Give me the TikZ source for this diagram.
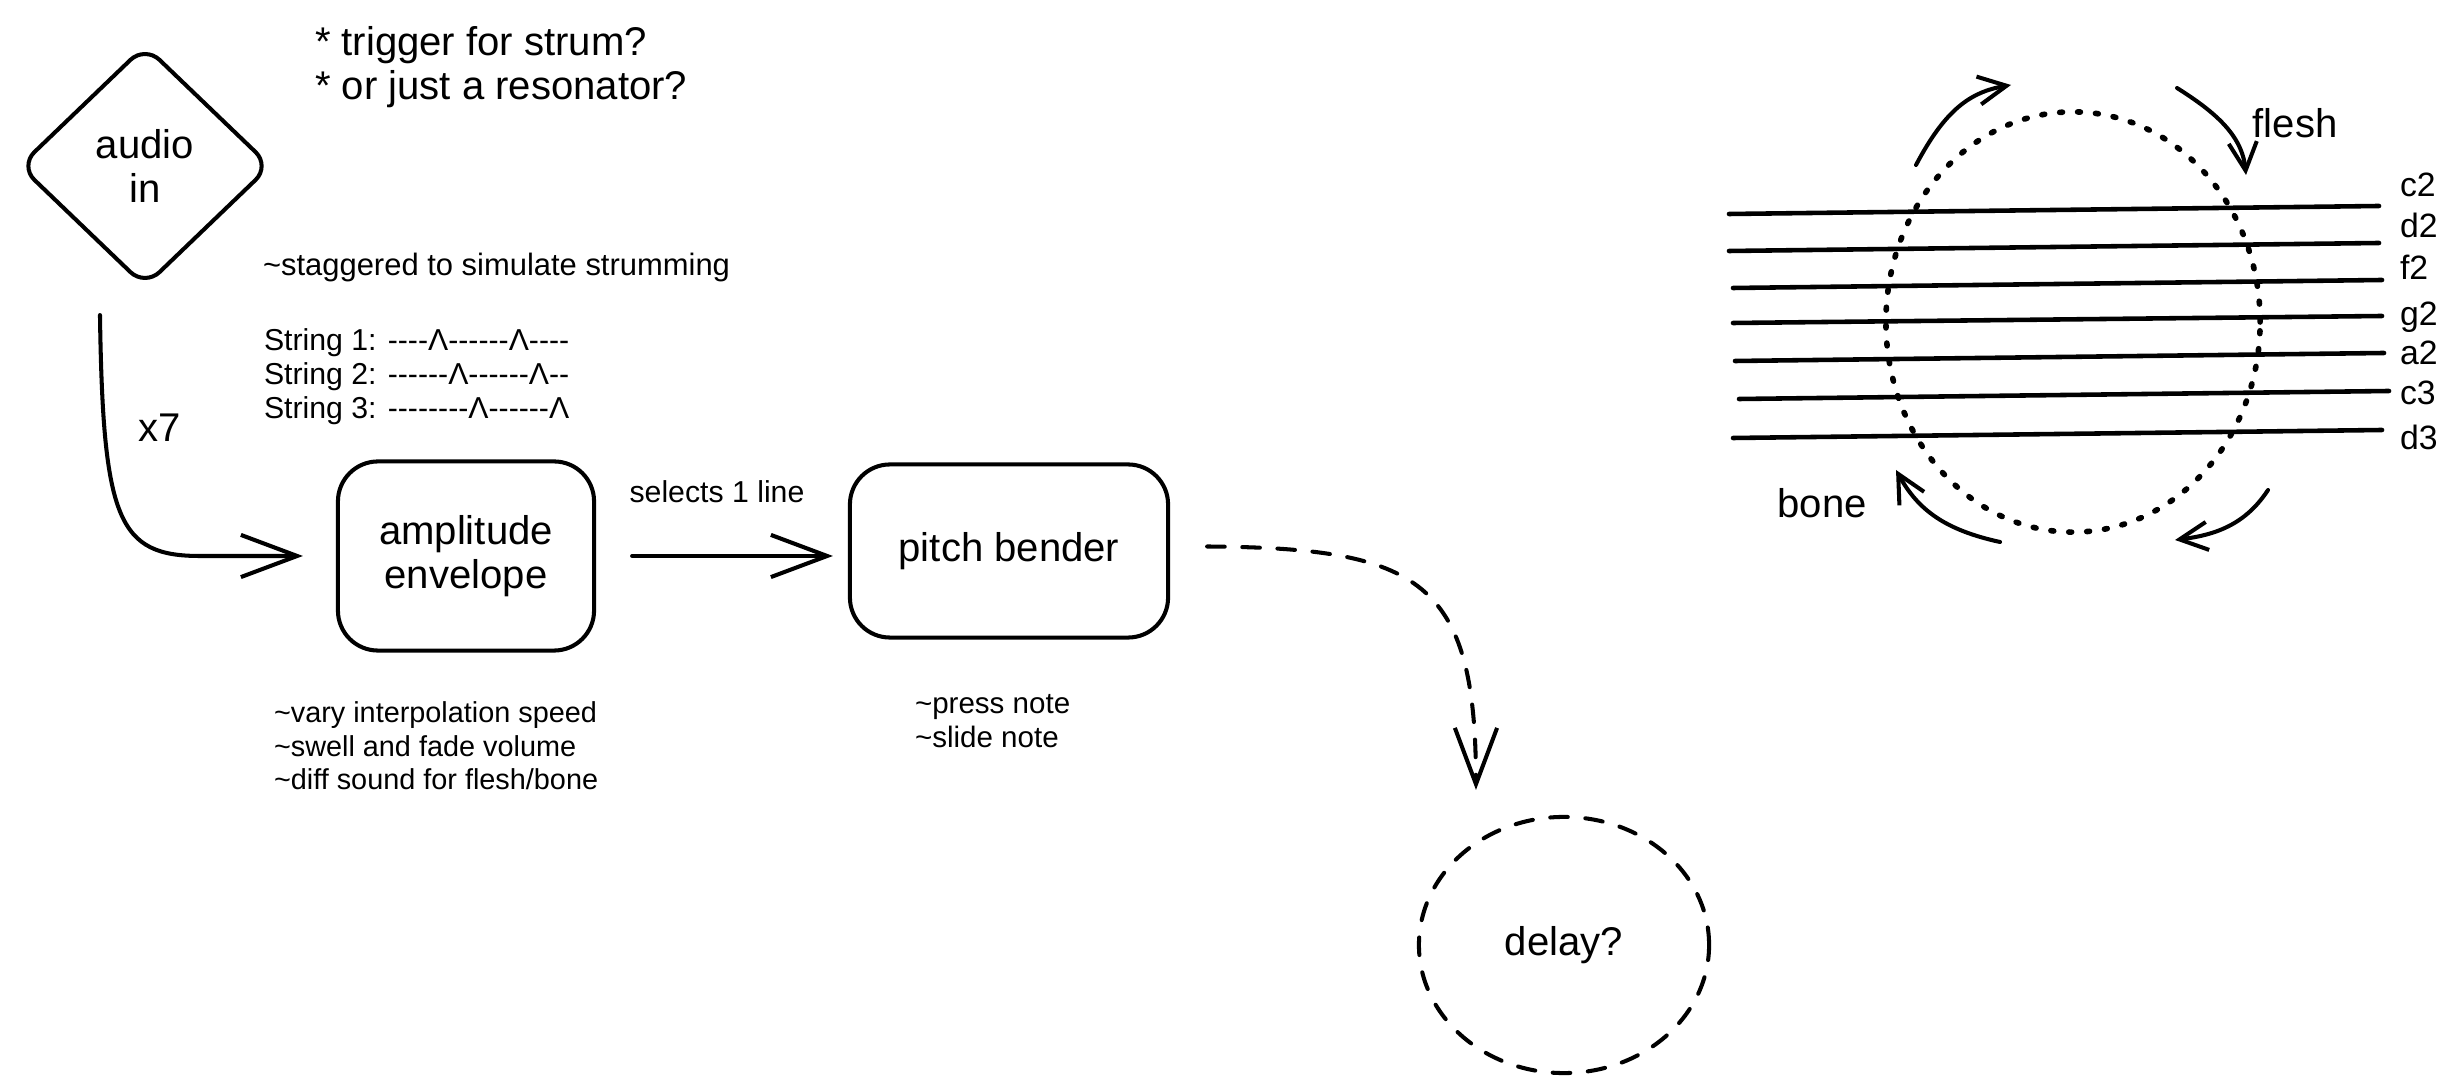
\documentclass[tikz,border=0pt]{standalone}
\usepackage{fontspec}
\setmainfont{Liberation Sans}[Ligatures=TeXOff]
\usetikzlibrary{arrows.meta,shapes.geometric}
\newcommand\bigtxt{\fontsize{11.4}{12.6}\selectfont}
\newcommand\smalltxt{\fontsize{8.6}{9.7}\selectfont}
\newcommand\stafftxt{\fontsize{9.6}{11}\selectfont}
\begin{document}
\begin{tikzpicture}[x=0.01cm, y=-0.01cm, line width=1.15pt, line cap=round, line join=round,
  box/.style={draw, rounded corners=0.4cm, font=\bigtxt, align=center, outer sep=0pt},
  note/.style={anchor=west, inner sep=0pt, font=\smalltxt, align=left},
  flow/.style={-{Straight Barb[length=16pt,width=12pt]}},
  turn/.style={-{Straight Barb[length=8pt,width=8pt]}},
  dashline/.style={dash pattern=on 5pt off 5pt},
  strg/.style={line width=1.3pt}]
\fill[white] (0,0) rectangle (2464,1092);
\useasboundingbox (0,0) rectangle (2464,1092);
\node[diamond, draw, rounded corners=0.2cm, minimum width=2.50cm, minimum height=2.40cm, inner sep=0pt, outer sep=0pt, font=\bigtxt, align=center] (audio) at (145,166) {audio\\in};
\node[font=\bigtxt, anchor=west, inner sep=0pt, align=left] (ask) at (313,67) {* trigger for strum?\\* or just a resonator?};
\node[note, font=\fontsize{8.8}{9.7}\selectfont] (stag) at (261,268) {\textasciitilde staggered to simulate strumming};
\node[note] (strum) at (262,377) {String 1: ----Λ------Λ----\\String 2: ------Λ------Λ--\\String 3: --------Λ------Λ};
\node[box, minimum width=2.56cm, minimum height=1.89cm] (amp) at (466,556) {amplitude\\envelope};
\node[box, minimum width=3.18cm, minimum height=1.73cm] (pitch) at (1009,551) {pitch bender};
\node[draw, dashline, ellipse, minimum width=2.90cm, minimum height=2.56cm, outer sep=0pt, font=\bigtxt] (delay) at (1564,945) {delay?};
\node[font=\bigtxt, inner sep=0pt] (x7) at (160,428) {x7};
\node[font=\smalltxt, inner sep=0pt] (sel) at (717,492) {selects 1 line};
\node[note, font=\fontsize{8.2}{9.5}\selectfont] (ampnote) at (272,746) {\textasciitilde vary interpolation speed\\\textasciitilde swell and fade volume\\\textasciitilde diff sound for flesh/bone};
\node[note, font=\fontsize{8.4}{9.5}\selectfont] (pitchnote) at (913,721) {\textasciitilde press note\\\textasciitilde slide note};
\draw[flow] ([xshift=-0.45cm,yshift=-0.29cm]audio.south) .. controls (103,520) and (118,556) .. (200,556) -- ([xshift=-0.35cm]amp.west);
\draw[flow, shorten <=0.38cm, shorten >=0.17cm] (amp.east) -- (amp.east -| pitch.west);
\draw[flow, dashline] ([xshift=0.39cm,yshift=0.045cm]pitch.east) .. controls (1420,548) and (1476,580) .. ([xshift=-0.88cm,yshift=0.27cm]delay.north);
\node[ellipse, draw, line width=1.6pt, dash pattern=on 0.8pt off 4.3pt, minimum width=3.74cm, minimum height=4.20cm] (ring) at (2073,322) {};
\draw[strg] (1729,214) -- (2379,206);
\draw[strg] (1729,251) -- (2379,243);
\draw[strg] (1733,288) -- (2382,280);
\draw[strg] (1733,323) -- (2382,316);
\draw[strg] (1735,361) -- (2384,353);
\draw[strg] (1739,399) -- (2389,391);
\draw[strg] (1733,438) -- (2382,430);
\node[font=\stafftxt, anchor=west, inner sep=0pt] (nc2) at (2398,185) {c2};
\node[font=\stafftxt, anchor=west, inner sep=0pt] (nd2) at (2398,225) {d2};
\node[font=\stafftxt, anchor=west, inner sep=0pt] (nf2) at (2398,267) {f2};
\node[font=\stafftxt, anchor=west, inner sep=0pt] (ng2) at (2398,317) {g2};
\node[font=\stafftxt, anchor=west, inner sep=0pt] (na2) at (2398,353) {a2};
\node[font=\stafftxt, anchor=west, inner sep=0pt] (nc3) at (2398,393) {c3};
\node[font=\stafftxt, anchor=west, inner sep=0pt] (nd3) at (2398,437) {d3};
\node[font=\bigtxt, inner sep=0pt] (flesh) at (2295,123) {flesh};
\node[font=\bigtxt, inner sep=0pt] (bone) at (1822,503) {bone};
\coordinate (tl0) at (1916,165);
\coordinate (tl1) at (2011,85);
\coordinate (tr0) at (2177,88);
\coordinate (tr1) at (2246,175);
\coordinate (br0) at (2268,490);
\coordinate (br1) at (2175,540);
\coordinate (bl0) at (2000,542);
\coordinate (bl1) at (1896,470);
\draw[turn] (tl0) .. controls (1945,110) and (1970,92) .. (tl1);
\draw[turn] (tr0) .. controls (2215,112) and (2242,135) .. (tr1);
\draw[turn] (br0) .. controls (2245,525) and (2215,535) .. (br1);
\draw[turn] (bl0) .. controls (1945,530) and (1918,510) .. (bl1);
\end{tikzpicture}
\end{document}
